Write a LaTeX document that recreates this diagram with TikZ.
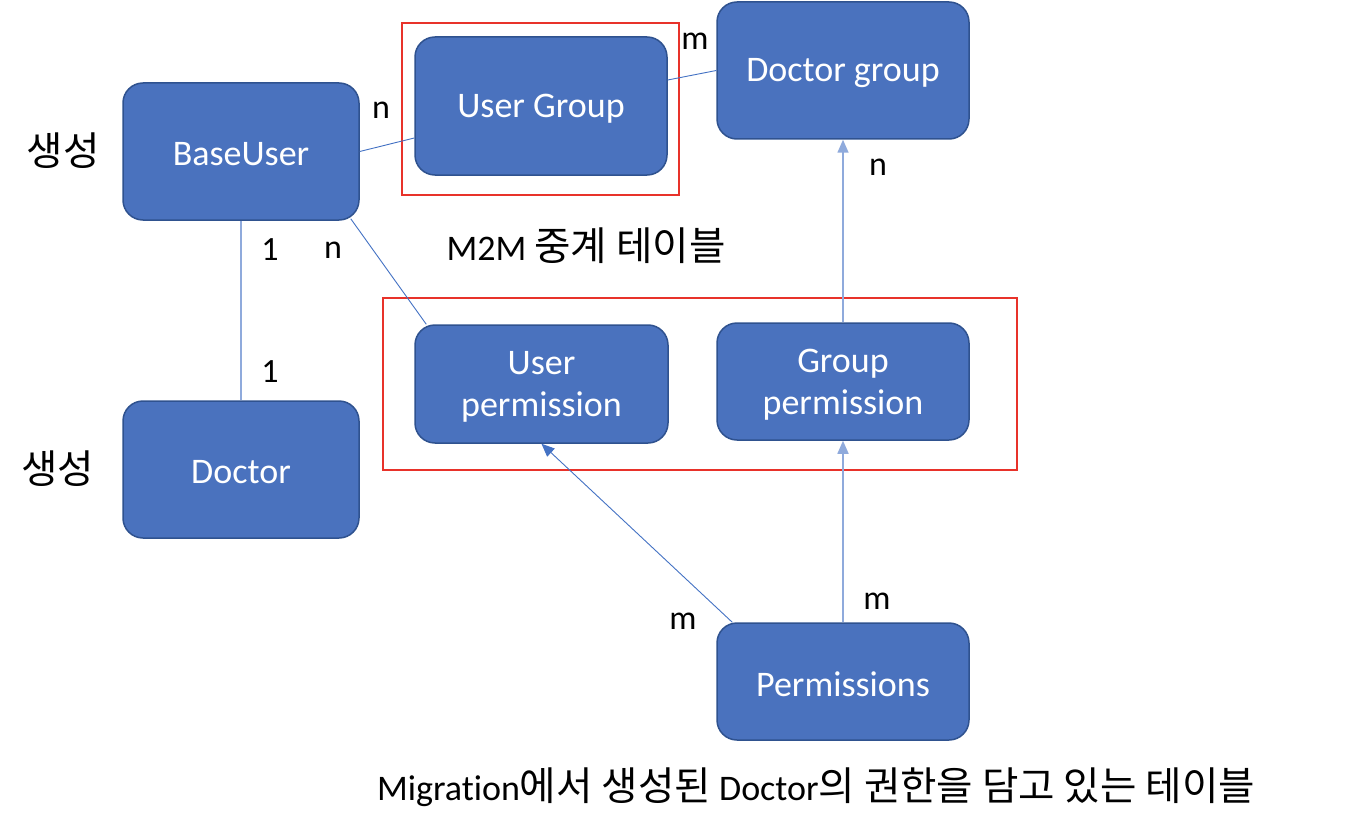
\documentclass[tikz,border=0pt]{standalone}
\usepackage{fontspec}
\setmainfont[Ligatures=NoCommon]{Carlito}
\newfontfamily\kr[Scale=1.1]{Noto Sans CJK KR}
\usetikzlibrary{arrows.meta,calc}
\definecolor{boxfill}{HTML}{4A72BE}
\definecolor{boxline}{HTML}{2F528F}
\definecolor{conn}{HTML}{4472C4}
\definecolor{connlight}{HTML}{8FAADC}
\definecolor{redline}{HTML}{E8322A}
\newcommand{\dn}[1]{\raisebox{-3pt}[\height][\depth]{#1}}
\tikzset{
  entity/.style={rectangle, rounded corners=20pt, fill=boxfill, draw=boxline, line width=1.5pt,
    text=white, align=center, inner sep=0pt, font=\fontsize{36}{42}\selectfont},
  redbox/.style={rectangle, draw=redline, line width=2pt, inner sep=0pt},
  card/.style={font=\fontsize{34}{38}\selectfont, inner sep=0pt},
  note/.style={font=\fontsize{36}{40}\selectfont, inner sep=0pt},
  conline/.style={draw=conn, line width=0.9pt},
  lightline/.style={draw=connlight, line width=1.6pt},
  arr/.style={-{Triangle[length=13pt,width=11pt]}},
}
\begin{document}
\begin{tikzpicture}[x=1pt,y=-1pt]
\useasboundingbox (0,0) rectangle (1368,832);
\fill[white] (0,0) rectangle (1368,832);
% red boxes
\node[redbox, minimum width=277pt, minimum height=172pt] (r1) at (540.5,109) {};
\node[redbox, minimum width=634pt, minimum height=172pt] (r2) at (700,384) {};
% entities
\node[entity, minimum width=236pt, minimum height=137pt] (bu) at (241,151.5) {\dn{BaseUser}};
\node[entity, minimum width=236pt, minimum height=137pt] (doc) at (241,469.5) {\dn{Doctor}};
\node[entity, minimum width=252pt, minimum height=138pt] (ug) at (541,106) {\dn{User Group}};
\node[entity, minimum width=252pt, minimum height=137pt] (dg) at (843,70.5) {\dn{Doctor group}};
\node[entity, minimum width=253pt, minimum height=118pt] (up) at (541.5,384) {\dn{User}\\\dn{permission}};
\node[entity, minimum width=252pt, minimum height=117pt] (gp) at (843,381.5) {\dn{Group}\\\dn{permission}};
\node[entity, minimum width=252pt, minimum height=117pt] (perm) at (843,681.5) {\dn{Permissions}};
% connectors
\draw[conline] (bu.east) -- ([yshift=-32pt]ug.west);
\draw[conline] ([yshift=26pt]ug.east) -- (dg.west);
\draw[conline] ([xshift=-9pt,yshift=2pt]bu.south east) -- ([xshift=12pt]up.north west);
\draw[lightline] (bu.south) -- (doc.north);
\draw[lightline, arr] (gp.north) -- (dg.south);
\draw[conline, arr] ([xshift=16pt]perm.north west) -- (up.south);
\draw[lightline, arr] (perm.north) -- (gp.south);
% cardinalities
\node[card] (c1) at (381,110) {n};
\node[card] (c2) at (695,41) {m};
\node[card] (c3) at (878,167) {n};
\node[card] (c4) at (270,250) {1};
\node[card] (c5) at (333,250) {n};
\node[card] (c6) at (270,372) {1};
\node[card] (c7) at (683,621) {m};
\node[card] (c8) at (877,601) {m};
% notes
\node[note] (s1) at (63,151) {\kr 생성};
\node[note] (s2) at (58,469) {\kr 생성};
\node[note] (m2m) at (586,246) {M2M {\kr 중계 테이블}};
\node[note] (mig) at (816,787) {Migration{\kr 에서 생성된} Doctor{\kr 의 권한을 담고 있는 테이블}};
\end{tikzpicture}
\end{document}
